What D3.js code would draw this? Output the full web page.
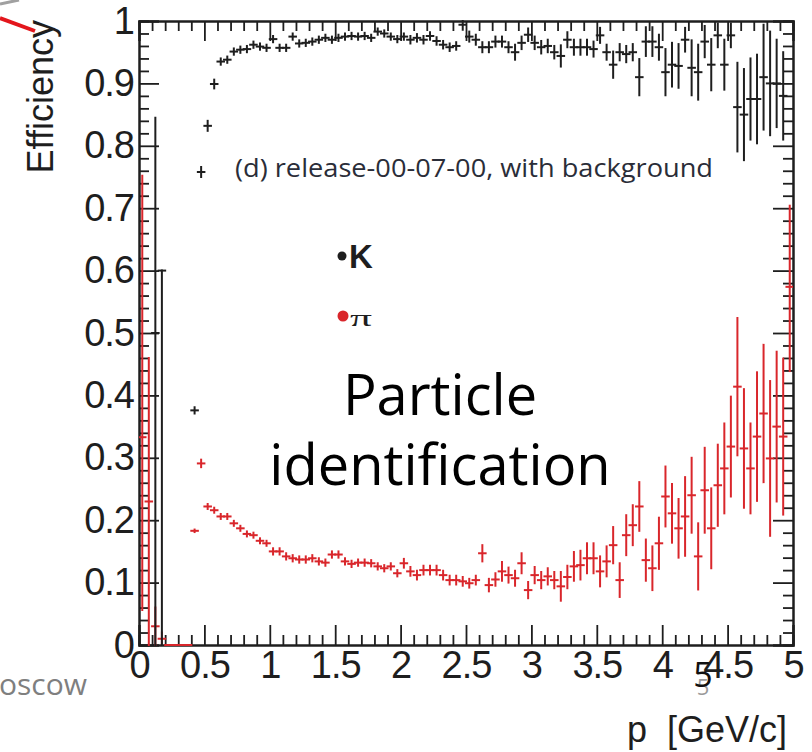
<!DOCTYPE html>
<html><head><meta charset="utf-8">
<script src="https://cdn.jsdelivr.net/npm/d3@7"></script>
<style>html,body{margin:0;padding:0;background:#fff;}svg{display:block}</style>
</head><body>
<svg id="c" width="812" height="752"></svg>
<script>
// ---- data (100 momentum bins, 0.05 GeV/c wide, from 0 to 5) ----
const binWidth = 0.05;
const binCenters = d3.range(100).map(i => +(0.025 + i * binWidth).toFixed(3));

const kaonEff = [null,null,0.5,0.6,null,null,null,null,
 0.376,0.758,0.832,0.899,0.935,0.938,0.951,0.954,0.955,0.962,0.959,0.957,
 0.971,0.957,0.957,0.975,0.964,0.965,0.967,0.970,0.973,0.970,
 0.973,0.975,0.976,0.975,0.976,0.973,0.983,0.980,0.975,0.971,
 0.975,0.970,0.973,0.970,0.976,0.968,0.962,0.958,0.960,0.994,
 0.975,0.970,0.958,0.958,0.967,0.967,0.958,0.950,0.965,0.978,
 0.965,0.958,0.960,0.950,0.944,0.970,0.958,0.958,0.958,0.955,
 0.977,0.950,0.930,0.950,0.947,0.950,0.910,0.967,0.967,0.958,
 0.918,0.930,0.928,0.970,0.925,0.918,0.967,0.930,0.977,0.930,
 0.977,0.862,0.850,0.875,0.875,0.910,0.900,0.900,0.880,null];
const kaonErrDown = [null,null,0.5,0.6,null,null,null,null,
 .005,.008,.008,.007,.005,.005,.005,.005,.005,.005,.005,.005,
 .005,.005,.005,.005,.005,.005,.005,.005,.005,.005,
 .005,.005,.005,.005,.005,.005,.005,.005,.005,.005,
 .005,.006,.006,.006,.006,.006,.006,.006,.006,.008,
 .008,.008,.008,.008,.008,.008,.008,.012,.010,.010,
 .010,.010,.010,.010,.017,.012,.012,.012,.012,.012,
 .012,.012,.021,.013,.013,.013,.029,.023,.023,.020,
 .037,.035,.035,.019,.044,.044,.025,.041,.019,.040,
 .019,.071,.073,.065,.071,.084,.083,.070,.070,null];
const kaonErrUp = [null,null,0.345,0,null,null,null,null,
 .005,.008,.008,.007,.005,.005,.005,.005,.005,.005,.005,.005,
 .005,.005,.005,.005,.005,.005,.005,.005,.005,.005,
 .005,.005,.005,.005,.005,.005,.005,.005,.005,.005,
 .005,.006,.006,.006,.006,.006,.006,.006,.006,.008,
 .008,.008,.008,.008,.008,.008,.008,.012,.010,.010,
 .010,.010,.010,.010,.017,.012,.012,.012,.012,.012,
 .012,.012,.021,.013,.013,.013,.029,.023,.023,.020,
 .037,.035,.035,.019,.044,.044,.025,.041,.019,.040,
 .019,.071,.073,.065,.071,.084,.083,.070,.070,null];

const pionEff = [0.333,0.23,0.03,0.01,0,0,0,0,
 0.183,0.291,0.222,0.216,0.206,0.206,0.195,0.187,0.178,0.176,0.167,0.163,
 0.150,0.150,0.142,0.139,0.137,0.137,0.139,0.134,0.132,0.145,
 0.145,0.134,0.130,0.132,0.132,0.131,0.126,0.123,0.126,0.115,
 0.131,0.118,0.112,0.120,0.120,0.120,0.112,0.104,0.104,0.102,
 0.099,0.104,0.147,0.096,0.105,0.118,0.112,0.107,0.131,0.088,
 0.112,0.104,0.110,0.104,0.094,0.109,0.126,0.128,0.139,0.139,
 0.118,0.134,0.160,0.104,0.176,0.192,0.222,0.136,0.123,0.163,
 0.238,0.211,0.187,0.206,0.240,0.142,0.248,0.187,0.256,0.283,
 0.318,0.414,0.315,0.283,0.334,0.371,0.299,0.350,0.334,0.574];
const pionErrDown = [0.277,0.23,0.03,0.01,0,0,0,0,
 .002,.006,.004,.004,.004,.004,.004,.004,.004,.004,.004,.004,
 .005,.005,.005,.005,.005,.005,.005,.005,.005,.005,
 .005,.005,.005,.005,.005,.005,.005,.005,.005,.005,
 .007,.007,.007,.007,.007,.007,.007,.007,.007,.007,
 .007,.007,.013,.010,.010,.015,.012,.012,.016,.013,
 .013,.013,.013,.013,.023,.018,.023,.023,.024,.024,
 .024,.024,.029,.027,.032,.032,.039,.033,.035,.041,
 .048,.047,.047,.063,.060,.053,.068,.064,.065,.072,
 .080,.110,.095,.072,.103,.110,.124,.120,.125,.135];
const pionErrUp = [0.419,0.23,0.03,0.01,0,0,0,0,
 .002,.006,.004,.004,.004,.004,.004,.004,.004,.004,.004,.004,
 .005,.005,.005,.005,.005,.005,.005,.005,.005,.005,
 .005,.005,.005,.005,.005,.005,.005,.005,.005,.005,
 .007,.007,.007,.007,.007,.007,.007,.007,.007,.007,
 .007,.007,.013,.010,.010,.015,.012,.012,.016,.013,
 .013,.013,.013,.013,.023,.018,.023,.023,.024,.024,
 .024,.024,.029,.027,.032,.032,.039,.033,.035,.041,
 .048,.047,.047,.063,.060,.053,.068,.064,.065,.072,
 .080,.110,.095,.072,.103,.110,.124,.120,.125,.130];

const xMajorTicks = [0,0.5,1,1.5,2,2.5,3,3.5,4,4.5,5];
const xTickLabels = ["0","0.5","1","1.5","2","2.5","3","3.5","4","4.5","5"];
const xMinorTicks = [0.1,0.2,0.3,0.4,0.6,0.7,0.8,0.9,1.1,1.2,1.3,1.4,1.6,1.7,1.8,1.9,2.1,2.2,2.3,2.4,2.6,2.7,2.8,2.9,3.1,3.2,3.3,3.4,3.6,3.7,3.8,3.9,4.1,4.2,4.3,4.4,4.6,4.7,4.8,4.9];
const yMajorTicks = [0,0.1,0.2,0.3,0.4,0.5,0.6,0.7,0.8,0.9,1];
const yTickLabels = ["0","0.1","0.2","0.3","0.4","0.5","0.6","0.7","0.8","0.9","1"];
const yMinorTicks = [];
for (let i = 0; i < 10; i++) for (let j = 1; j < 5; j++) yMinorTicks.push(+(i*0.1 + j*0.02).toFixed(2));

const titleText = "(d) release-00-07-00, with background";
const legendLabels = ["K", "\u03C0"];
const yTitle = "Efficiency";
const xTitle = "p  [GeV/c]";
const overlayLines = ["Particle", "identification"];

// ---- drawing ----
const svg = d3.select("#c");
const L = 139, R = 793, T = 21, B = 645;
const x = d3.scaleLinear().domain([0,5]).range([L,R]);
const y = d3.scaleLinear().domain([0,1]).range([B,T]);
const axisFont = "'Liberation Sans', Arial, Helvetica, sans-serif";
const ink = "#1e1e1e";
const red = "#d9262b";

svg.append("rect").attr("width",812).attr("height",752).attr("fill","#fff");

function styleAxis(g, showLabels){
  g.select(".domain").attr("stroke", ink).attr("stroke-width", 2);
  g.selectAll(".tick line").attr("stroke", ink).attr("stroke-width", 1.8);
  g.selectAll(".tick text").attr("fill", ink).attr("font-size", 38)
   .attr("font-family", axisFont).attr("letter-spacing", -1);
  if (!showLabels) g.selectAll(".tick text").remove();
}
const fmtX = d => xTickLabels[xMajorTicks.indexOf(d)];
const fmtY = d => yTickLabels[yMajorTicks.indexOf(d)];

// bottom
svg.append("g").attr("transform",`translate(0,${B})`)
  .call(d3.axisBottom(x).tickValues(xMinorTicks).tickSize(-10).tickFormat(""))
  .call(g=>styleAxis(g,false));
svg.append("g").attr("transform",`translate(0,${B})`)
  .call(d3.axisBottom(x).tickValues(xMajorTicks).tickSize(-20).tickPadding(6).tickFormat(fmtX))
  .call(g=>styleAxis(g,true));
// top
svg.append("g").attr("transform",`translate(0,${T})`)
  .call(d3.axisTop(x).tickValues(xMinorTicks).tickSize(-10).tickFormat(""))
  .call(g=>styleAxis(g,false));
svg.append("g").attr("transform",`translate(0,${T})`)
  .call(d3.axisTop(x).tickValues(xMajorTicks).tickSize(-20).tickFormat(""))
  .call(g=>styleAxis(g,false));
// left
svg.append("g").attr("transform",`translate(${L},0)`)
  .call(d3.axisLeft(y).tickValues(yMinorTicks).tickSize(-10).tickFormat(""))
  .call(g=>styleAxis(g,false));
svg.append("g").attr("transform",`translate(${L},0)`)
  .call(d3.axisLeft(y).tickValues(yMajorTicks).tickSize(-20).tickPadding(5).tickFormat(fmtY))
  .call(g=>styleAxis(g,true));
// right
svg.append("g").attr("transform",`translate(${R},0)`)
  .call(d3.axisRight(y).tickValues(yMinorTicks).tickSize(-10).tickFormat(""))
  .call(g=>styleAxis(g,false));
svg.append("g").attr("transform",`translate(${R},0)`)
  .call(d3.axisRight(y).tickValues(yMajorTicks).tickSize(-20).tickFormat(""))
  .call(g=>styleAxis(g,false));

// clip
svg.append("clipPath").attr("id","frame").append("rect")
  .attr("x",L).attr("y",T-1).attr("width",R-L).attr("height",B-T+3);

function drawSeries(vals, lo, hi, color){
  const pts = binCenters.map((c,i)=>({c, v:vals[i], lo:lo[i], hi:hi[i]})).filter(d=>d.v!==null);
  const g = svg.append("g").attr("clip-path","url(#frame)")
    .attr("stroke", color).attr("stroke-width", 2).attr("stroke-linecap","square");
  g.selectAll("line.h").data(pts).join("line").attr("class","h")
    .attr("x1", d=>x(d.c - binWidth/2)).attr("x2", d=>x(d.c + binWidth/2))
    .attr("y1", d=>y(d.v)).attr("y2", d=>y(d.v));
  g.selectAll("line.v").data(pts.filter(d=>d.lo+d.hi>0)).join("line").attr("class","v")
    .attr("x1", d=>x(d.c)).attr("x2", d=>x(d.c))
    .attr("y1", d=>y(Math.max(0,d.v - d.lo))).attr("y2", d=>y(d.v + d.hi));
}
drawSeries(pionEff, pionErrDown, pionErrUp, red);
drawSeries(kaonEff, kaonErrDown, kaonErrUp, ink);

// axis titles
svg.append("text").attr("transform","translate(53,20) rotate(-90)")
  .attr("text-anchor","end").attr("font-family",axisFont).attr("font-size",36)
  .attr("fill",ink).text(yTitle);
svg.append("text").attr("x",787).attr("y",742).attr("text-anchor","end")
  .attr("font-family",axisFont).attr("font-size",36).attr("fill",ink)
  .attr("xml:space","preserve").style("white-space","pre").text(xTitle);

// title
svg.append("text").attr("x",235).attr("y",177)
  .attr("font-family","'Open Sans','Noto Sans',sans-serif").attr("font-size",26)
  .attr("fill","#2a2d38").attr("textLength",478).attr("lengthAdjust","spacingAndGlyphs")
  .text(titleText);

// legend
svg.append("circle").attr("cx",342).attr("cy",256).attr("r",4.5).attr("fill",ink);
svg.append("text").attr("x",349).attr("y",268).attr("font-family",axisFont)
  .attr("font-weight","bold").attr("font-size",33).attr("fill",ink).text(legendLabels[0]);
svg.append("circle").attr("cx",343).attr("cy",316).attr("r",5.5).attr("fill",red);
svg.append("text").attr("x",350).attr("y",326).attr("font-family","'Liberation Serif',serif")
  .attr("font-size",24).attr("fill",ink).attr("textLength",22).attr("lengthAdjust","spacingAndGlyphs")
  .text(legendLabels[1]);

// overlay slide text
overlayLines.forEach((t,i)=>{
  svg.append("text").attr("x",440).attr("y",415 + i*70).attr("text-anchor","middle")
    .attr("font-family","'Open Sans',sans-serif").attr("font-size",56).attr("fill","#000").text(t);
});

// slide decorations
svg.append("line").attr("x1",0).attr("y1",18).attr("x2",35).attr("y2",31)
  .attr("stroke","#e3161c").attr("stroke-width",4);
svg.append("line").attr("x1",0).attr("y1",4).attr("x2",19).attr("y2",0)
  .attr("stroke","#a0a0a0").attr("stroke-width",3);
svg.append("text").attr("x",-1).attr("y",695).attr("font-family","'Open Sans',sans-serif")
  .attr("font-size",30).attr("fill","#7f7f7f").text("oscow");
svg.append("text").attr("x",703).attr("y",695).attr("text-anchor","middle")
  .attr("font-family","'Open Sans',sans-serif").attr("font-size",22).attr("fill","#9a9a9a").text("5");
svg.append("text").attr("x",703).attr("y",687).attr("text-anchor","middle")
  .attr("font-family","'Open Sans',sans-serif").attr("font-size",34).attr("fill","#111").text("5");
</script>
</body></html>
